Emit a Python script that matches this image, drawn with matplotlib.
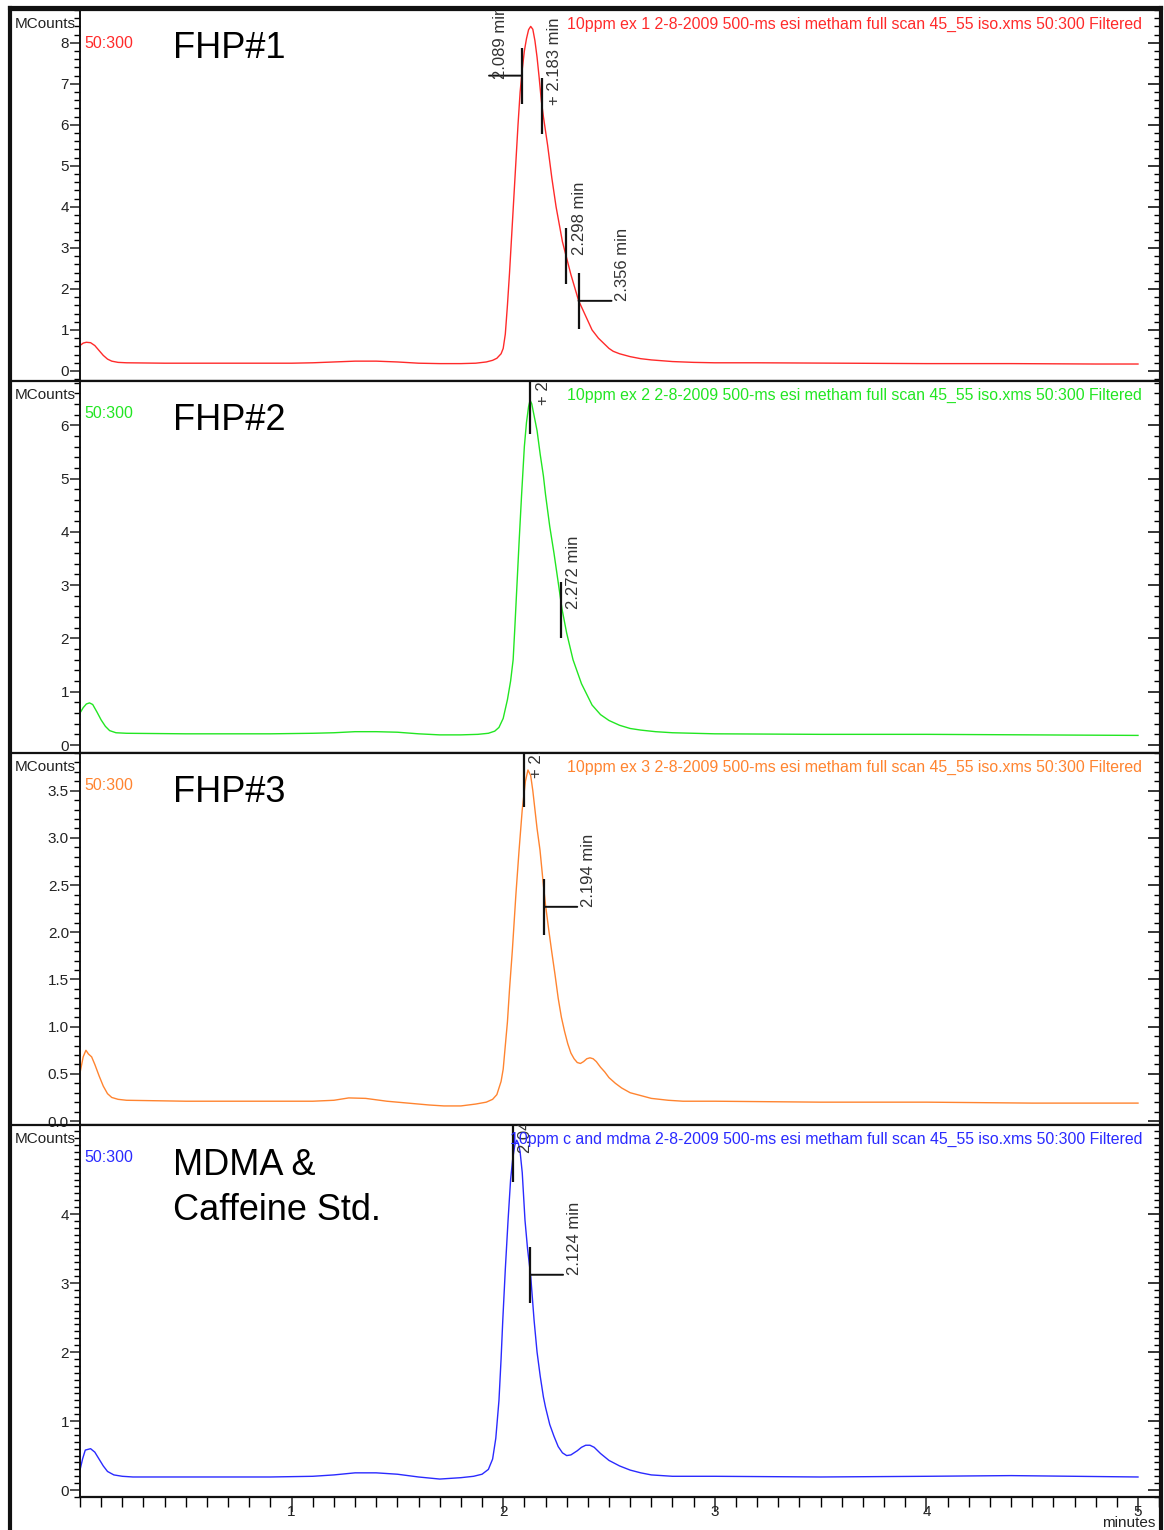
import matplotlib
matplotlib.use("Agg")
import matplotlib.pyplot as plt
from matplotlib.lines import Line2D
from matplotlib.ticker import MultipleLocator

plt.rcParams['font.family'] = ['Liberation Sans', 'DejaVu Sans']

# ---------------- data ----------------
panel_names = ["FHP#1", "FHP#2", "FHP#3", "MDMA &\nCaffeine Std."]
panel_titles = [
    "10ppm ex 1 2-8-2009 500-ms esi metham full scan 45_55 iso.xms 50:300 Filtered",
    "10ppm ex 2 2-8-2009 500-ms esi metham full scan 45_55 iso.xms 50:300 Filtered",
    "10ppm ex 3 2-8-2009 500-ms esi metham full scan 45_55 iso.xms 50:300 Filtered",
    "10ppm c and mdma 2-8-2009 500-ms esi metham full scan 45_55 iso.xms 50:300 Filtered",
]
mass_range = "50:300"
colors = ["#ff2a2a", "#22e622", "#ff8430", "#2a2aff"]

t1 = [0.0, 0.015, 0.03, 0.05, 0.07, 0.09, 0.11, 0.13, 0.15, 0.18, 0.22, 0.4, 0.7, 1.0, 1.1,
      1.2, 1.3, 1.4, 1.5, 1.6, 1.7, 1.8, 1.87, 1.92, 1.95, 1.97, 1.99, 2.0, 2.01, 2.02, 2.03,
      2.04, 2.05, 2.06, 2.07, 2.08, 2.09, 2.1, 2.11, 2.12, 2.13, 2.14, 2.15, 2.16, 2.17, 2.18,
      2.19, 2.2, 2.21, 2.23, 2.25, 2.28, 2.3, 2.32, 2.356, 2.38, 2.42, 2.45, 2.47, 2.5, 2.52,
      2.55, 2.6, 2.65, 2.7, 2.75, 2.8, 2.9, 3.0, 3.2, 3.6, 4.0, 4.4, 4.8, 5.0]
s1 = [0.62, 0.68, 0.7, 0.69, 0.62, 0.5, 0.38, 0.29, 0.24, 0.21, 0.2, 0.19, 0.19, 0.19, 0.2,
      0.22, 0.24, 0.24, 0.22, 0.19, 0.18, 0.18, 0.19, 0.22, 0.26, 0.31, 0.42, 0.55, 0.9, 1.6,
      2.4, 3.3, 4.2, 5.1, 6.0, 6.8, 7.35, 7.8, 8.1, 8.32, 8.4, 8.33, 8.05, 7.65, 7.15, 6.6,
      6.2, 5.85, 5.5, 4.7, 4.0, 3.15, 2.75, 2.35, 1.72, 1.45, 1.0, 0.8, 0.7, 0.55, 0.48,
      0.42, 0.35, 0.3, 0.27, 0.25, 0.23, 0.21, 0.2, 0.2, 0.19, 0.18, 0.18, 0.17, 0.17]

t2 = [0.0, 0.015, 0.03, 0.045, 0.06, 0.08, 0.1, 0.12, 0.14, 0.17, 0.22, 0.5, 0.9, 1.1, 1.2,
      1.3, 1.4, 1.5, 1.6, 1.7, 1.8, 1.88, 1.93, 1.96, 1.98, 2.0, 2.02, 2.035, 2.047, 2.055,
      2.065, 2.075, 2.087, 2.1, 2.11, 2.12, 2.127, 2.135, 2.145, 2.16, 2.175, 2.19, 2.2, 2.22,
      2.24, 2.26, 2.278, 2.3, 2.33, 2.37, 2.42, 2.46, 2.5, 2.55, 2.6, 2.65, 2.72, 2.8, 2.9,
      3.0, 3.5, 4.0, 4.5, 5.0]
s2 = [0.6, 0.7, 0.77, 0.79, 0.76, 0.62, 0.47, 0.35, 0.27, 0.23, 0.22, 0.21, 0.21, 0.22, 0.23,
      0.25, 0.25, 0.24, 0.21, 0.19, 0.19, 0.2, 0.22, 0.26, 0.33, 0.5, 0.85, 1.2, 1.6, 2.2,
      3.0, 3.8, 4.7, 5.6, 6.05, 6.35, 6.47, 6.4, 6.2, 5.9, 5.45, 5.05, 4.7, 4.1, 3.6, 3.05,
      2.55, 2.1, 1.6, 1.15, 0.75, 0.57, 0.46, 0.37, 0.31, 0.28, 0.25, 0.23, 0.22, 0.21, 0.2,
      0.2, 0.19, 0.18]

t3 = [0.0, 0.015, 0.028, 0.04, 0.055, 0.07, 0.09, 0.11, 0.13, 0.15, 0.18, 0.22, 0.5, 0.9,
      1.1, 1.2, 1.27, 1.35, 1.45, 1.55, 1.65, 1.72, 1.8, 1.87, 1.92, 1.95, 1.97, 1.99, 2.0,
      2.01, 2.02, 2.03, 2.043, 2.06, 2.075, 2.09, 2.105, 2.117, 2.13, 2.14, 2.15, 2.16, 2.174,
      2.19, 2.2, 2.215, 2.229, 2.245, 2.26, 2.275, 2.29, 2.305, 2.32, 2.335, 2.35, 2.365,
      2.38, 2.395, 2.41, 2.425, 2.44, 2.46, 2.48, 2.5, 2.53, 2.56, 2.6, 2.65, 2.7, 2.78, 2.85,
      3.0, 3.5, 4.0, 4.5, 5.0]
s3 = [0.51, 0.68, 0.75, 0.71, 0.68, 0.6, 0.48, 0.37, 0.29, 0.25, 0.23, 0.22, 0.21, 0.21,
      0.21, 0.22, 0.245, 0.24, 0.21, 0.19, 0.17, 0.16, 0.16, 0.18, 0.2, 0.23, 0.28, 0.42,
      0.55, 0.8, 1.05, 1.4, 1.8, 2.4, 2.87, 3.3, 3.6, 3.72, 3.66, 3.5, 3.3, 3.1, 2.87, 2.5,
      2.29, 2.03, 1.8, 1.55, 1.3, 1.1, 0.95, 0.82, 0.72, 0.66, 0.62, 0.61, 0.63, 0.66, 0.67,
      0.66, 0.63, 0.57, 0.52, 0.46, 0.4, 0.35, 0.3, 0.27, 0.24, 0.22, 0.21, 0.21, 0.2, 0.2,
      0.19, 0.19]

t4 = [0.0, 0.012, 0.025, 0.05, 0.07, 0.09, 0.11, 0.13, 0.16, 0.2, 0.25, 0.5, 0.9, 1.1, 1.2,
      1.3, 1.4, 1.5, 1.6, 1.7, 1.8, 1.86, 1.9, 1.93, 1.95, 1.965, 1.98, 1.99, 1.998, 2.01,
      2.023, 2.035, 2.045, 2.055, 2.064, 2.072, 2.08, 2.09, 2.103, 2.115, 2.13, 2.146, 2.16,
      2.175, 2.19, 2.2, 2.22, 2.24, 2.26, 2.28, 2.3, 2.32, 2.35, 2.37, 2.39, 2.41, 2.43, 2.46,
      2.5, 2.55, 2.6, 2.65, 2.7, 2.8, 2.9, 3.0, 3.5, 4.0, 4.4, 4.7, 5.0]
s4 = [0.29, 0.45, 0.58, 0.6, 0.55, 0.45, 0.35, 0.27, 0.22, 0.2, 0.19, 0.19, 0.19, 0.2, 0.22,
      0.25, 0.25, 0.23, 0.19, 0.16, 0.18, 0.2, 0.23, 0.3, 0.45, 0.75, 1.3, 1.9, 2.46, 3.2,
      3.91, 4.5, 4.8, 5.0, 5.07, 5.02, 4.9, 4.6, 3.91, 3.5, 3.1, 2.46, 2.0, 1.65, 1.35, 1.2,
      0.95, 0.78, 0.63, 0.54, 0.5, 0.51, 0.57, 0.62, 0.65, 0.65, 0.62, 0.53, 0.43, 0.35,
      0.29, 0.25, 0.22, 0.2, 0.2, 0.2, 0.19, 0.2, 0.21, 0.2, 0.19]

times = [t1, t2, t3, t4]
signals = [s1, s2, s3, s4]

# peak markers: (time, signal at marker, label, stub side)
markers = [
    [(2.089, 7.2, "2.089 min", -1), (2.183, 6.46, "+ 2.183 min", 0),
     (2.298, 2.8, "2.298 min", 0), (2.356, 1.71, "2.356 min", 1)],
    [(2.127, 6.36, "+ 2.127 min", 0), (2.272, 2.53, "2.272 min", 0)],
    [(2.098, 3.62, "+ 2.098 min", 0), (2.194, 2.27, "2.194 min", 1)],
    [(2.046, 4.87, "2.047 min", 0), (2.127, 3.12, "2.124 min", 1)],
]

y_ticks = [[0, 1, 2, 3, 4, 5, 6, 7, 8], [0, 1, 2, 3, 4, 5, 6],
           [0.0, 0.5, 1.0, 1.5, 2.0, 2.5, 3.0, 3.5], [0, 1, 2, 3, 4]]
y_labels = [["0", "1", "2", "3", "4", "5", "6", "7", "8"],
            ["0", "1", "2", "3", "4", "5", "6"],
            ["0.0", "0.5", "1.0", "1.5", "2.0", "2.5", "3.0", "3.5"],
            ["0", "1", "2", "3", "4"]]
y_limits = [(-0.244, 8.80), (-0.15, 6.83), (-0.042, 3.90), (-0.10, 5.29)]
y_minor = [0.2, 0.2, 0.1, 0.1]
x_ticks = [1, 2, 3, 4, 5]
x_labels = ["1", "2", "3", "4", "5"]

# ---------------- layout ----------------
W, H = 1164, 1530
fig = plt.figure(figsize=(W / 100, H / 100), dpi=100)
fig.patch.set_facecolor("white")

def fx(x):
    return x / W

def fy(y):
    return 1 - y / H

left_px, right_px = 80, 1160
tops = [10, 381, 753, 1125]
bottoms = [381, 753, 1125, 1497]

for i in range(4):
    top, bot = tops[i], bottoms[i]
    ax = fig.add_axes([fx(left_px), fy(bot), fx(right_px - left_px), (bot - top) / H])
    ax.plot(times[i], signals[i], color=colors[i], lw=1.0, solid_joinstyle="round")
    ax.set_xlim(0, 5.104)
    ax.set_ylim(*y_limits[i])
    ax.set_yticks(y_ticks[i])
    ax.set_yticklabels(y_labels[i])
    ax.yaxis.set_minor_locator(MultipleLocator(y_minor[i]))
    ax.tick_params(axis="y", which="major", length=7, width=1.1, pad=1,
                   labelsize=11, colors="#222222", direction="out")
    ax.tick_params(axis="y", which="minor", length=4, width=1.0, direction="out")
    for sp in ["left", "right", "top", "bottom"]:
        ax.spines[sp].set_color("#111111")
    ax.spines["left"].set_linewidth(1.4)
    ax.spines["top"].set_linewidth(1.6)
    ax.spines["right"].set_linewidth(1.4)
    ax.spines["bottom"].set_linewidth(1.6)

    # right-side inward ticks
    sec = ax.secondary_yaxis("right")
    sec.set_yticks(y_ticks[i])
    sec.yaxis.set_minor_locator(MultipleLocator(y_minor[i]))
    sec.tick_params(axis="y", which="major", direction="in", length=9, width=1.1,
                    labelright=False)
    sec.tick_params(axis="y", which="minor", direction="in", length=4, width=1.0)
    sec.spines["right"].set_linewidth(1.4)

    if i < 3:
        ax.set_xticks([])
    else:
        ax.set_xticks(x_ticks)
        ax.set_xticklabels(x_labels)
        ax.xaxis.set_minor_locator(MultipleLocator(0.1))
        ax.tick_params(axis="x", which="major", length=11, width=1.1, pad=-5,
                       labelsize=11, colors="#222222", direction="out")
        ax.tick_params(axis="x", which="minor", length=7, width=1.0, direction="out")

    # peak markers
    for (t, h, lab, stub) in markers[i]:
        ax.plot([t], [h], marker="|", markersize=41, mew=1.6, color="#111111",
                ls="none", clip_on=True)
        if stub != 0:
            ax.annotate("", xy=(t, h), xytext=(33 * stub, 0), textcoords="offset pixels",
                        arrowprops=dict(arrowstyle="-", color="#111111", lw=1.4,
                                        shrinkA=0, shrinkB=0))
            dx = 33 * stub + 11
            dy = -3 if stub < 0 else 0
        else:
            dx, dy = 13, 1
        ax.annotate(lab, xy=(t, h), xytext=(dx, dy), textcoords="offset pixels",
                    rotation=90, ha="center", va="bottom", fontsize=12,
                    color="#333333", clip_on=True)

    # texts
    fig.text(fx(15), fy(top + 14), "MCounts", fontsize=11, color="#222222",
             ha="left", va="center")
    fig.text(fx(84), fy(top + 33), mass_range, fontsize=11.5, color=colors[i],
             ha="left", va="center")
    fig.text(fx(1142), fy(top + 14), panel_titles[i], fontsize=11.4, color=colors[i],
             ha="right", va="center")
    if i < 3:
        fig.text(fx(173), fy(top + 39), panel_names[i], fontsize=26, color="black",
                 ha="left", va="center")
    else:
        fig.text(fx(173), fy(top + 63), panel_names[i], fontsize=26, color="black",
                 ha="left", va="center", linespacing=1.36)

    # separator line into left margin
    fig.add_artist(Line2D([fx(10), fx(left_px)], [fy(top), fy(top)], color="#111111",
                          lw=1.6, transform=fig.transFigure))

fig.text(fx(1129), fy(1523), "minutes", fontsize=11, color="#222222", ha="center",
         va="center")

# outer frame
frame_kw = dict(color="#111111", lw=3, transform=fig.transFigure)
fig.add_artist(Line2D([fx(10), fx(10)], [fy(8), 0], **frame_kw))
fig.add_artist(Line2D([fx(10), fx(1161)], [fy(8), fy(8)], **frame_kw))
fig.add_artist(Line2D([fx(1161), fx(1161)], [fy(8), 0], **frame_kw))

fig.savefig("out.png", dpi=100)
